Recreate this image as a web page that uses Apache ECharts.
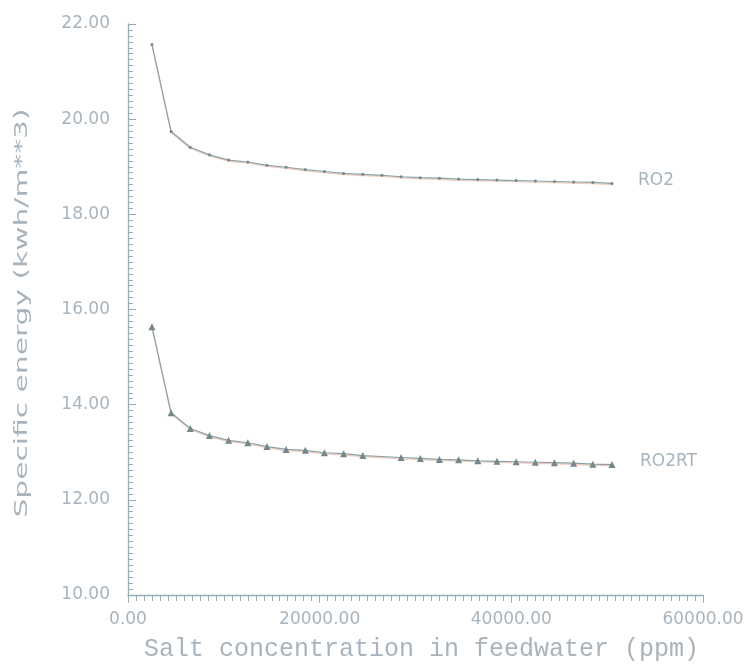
<!DOCTYPE html>
<html>
<head>
<meta charset="utf-8">
<script src="https://cdn.jsdelivr.net/npm/echarts@6/dist/echarts.min.js"></script>
<style>html,body{margin:0;padding:0;background:#fff;}#c{width:753px;height:671px;}</style>
</head>
<body>
<div id="c"></div>
<script>
const xRO2 = [2500,4500,6500,8500,10500,12500,14500,16500,18500,20500,22500,24500,26500,28500,30500,32500,34500,36500,38500,40500,42500,44500,46500,48500,50500];
const yRO2 = [21.57,19.74,19.41,19.25,19.14,19.10,19.03,18.99,18.94,18.90,18.86,18.84,18.82,18.79,18.77,18.76,18.74,18.73,18.72,18.71,18.70,18.69,18.68,18.67,18.65];
const xRO2RT = [2500,4500,6500,8500,10500,12500,14500,16500,18500,20500,22500,24500,28500,30500,32500,34500,36500,38500,40500,42500,44500,46500,48500,50500];
const yRO2RT = [15.64,13.83,13.50,13.35,13.25,13.20,13.12,13.06,13.04,12.99,12.97,12.93,12.89,12.87,12.85,12.84,12.82,12.81,12.80,12.79,12.78,12.77,12.75,12.74];
const seriesNames = ['RO2','RO2RT'];
const xTitle = 'Salt concentration in feedwater (ppm)';
const yTitle = 'Specific energy (kwh/m**3)';

const axisColor = '#8fb0b6';
const textColor = '#a8b4bd';
const lineColor = '#86a2a6';
const markColor = '#75878b';

const chart = echarts.init(document.getElementById('c'));
chart.setOption({
  backgroundColor: '#ffffff',
  animation: false,
  grid: { left: 128, right: 50, top: 24, bottom: 76, containLabel: false },
  xAxis: {
    type: 'value', min: 0, max: 60000, interval: 20000,
    name: xTitle, nameLocation: 'middle', nameGap: 42,
    nameTextStyle: { fontFamily: 'Liberation Mono', fontSize: 25, color: textColor, padding: [0, 0, 0, 12] },
    axisLine: { lineStyle: { color: axisColor, width: 1.3 } },
    axisTick: { show: true, inside: false, length: 8, lineStyle: { color: axisColor } },
    minorTick: { show: true, splitNumber: 24, length: 6, lineStyle: { color: axisColor } },
    splitLine: { show: false },
    axisLabel: { formatter: v => v.toFixed(2), fontFamily: 'DejaVu Sans', fontSize: 17, color: textColor, margin: 16 }
  },
  yAxis: {
    type: 'value', min: 10, max: 22, interval: 2,
    axisLine: { lineStyle: { color: axisColor, width: 1.3 } },
    axisTick: { show: true, inside: true, length: 8, lineStyle: { color: axisColor } },
    minorTick: { show: true, splitNumber: 16, length: 5, lineStyle: { color: axisColor } },
    splitLine: { show: false },
    axisLabel: { formatter: v => v.toFixed(2), fontFamily: 'DejaVu Sans', fontSize: 17, color: textColor, margin: 18 }
  },
  graphic: [{
    type: 'text', x: 22, y: 313, rotation: Math.PI / 2, scaleX: 1.65,
    style: { text: yTitle, font: '18px "DejaVu Sans"', fill: textColor, align: 'center', verticalAlign: 'middle' }
  }],
  series: [{
    name: seriesNames[0], type: 'line',
    data: xRO2.map((x, i) => [x, yRO2[i]]),
    symbol: 'circle', symbolSize: 3,
    itemStyle: { color: markColor },
    lineStyle: { color: lineColor, width: 1.2, shadowColor: 'rgba(240,160,130,0.55)', shadowOffsetY: 1.2 },
    endLabel: { show: true, formatter: '{a}', distance: 26, offset: [0, -3], fontFamily: 'DejaVu Sans', fontSize: 17, color: textColor }
  }, {
    name: seriesNames[1], type: 'line',
    data: xRO2RT.map((x, i) => [x, yRO2RT[i]]),
    symbol: 'triangle', symbolSize: 7,
    itemStyle: { color: markColor },
    lineStyle: { color: lineColor, width: 1.2, shadowColor: 'rgba(240,160,130,0.55)', shadowOffsetY: 1.2 },
    endLabel: { show: true, formatter: '{a}', distance: 28, offset: [0, -3], fontFamily: 'DejaVu Sans', fontSize: 17, color: textColor }
  }]
});
</script>
</body>
</html>
